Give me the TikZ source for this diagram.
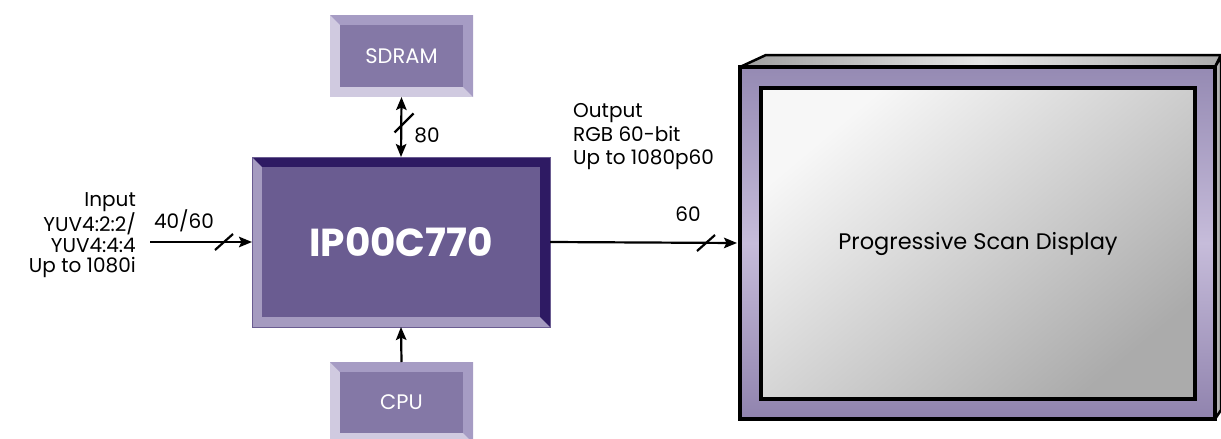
\documentclass[tikz,border=0pt]{standalone}
\usepackage{fontspec}
\setmainfont{Poppins}
\usetikzlibrary{arrows.meta,calc}
\definecolor{chipdark}{HTML}{2E1A63}
\definecolor{chiplight}{HTML}{A59BC0}
\definecolor{chipface}{HTML}{6A5C91}
\definecolor{memlight}{HTML}{D0CAE0}
\definecolor{memdark}{HTML}{A69CC4}
\definecolor{memface}{HTML}{8478A6}
\definecolor{frametop}{HTML}{958AB3}
\definecolor{framemid}{HTML}{C6BCDA}
\definecolor{framebot}{HTML}{9083AE}
\newcommand{\bevelbox}[9]{%
  % #1 name, #2 center, #3 width, #4 height, #5 bevel, #6 light, #7 dark, #8 face, #9 text
  \node[minimum width=#3, minimum height=#4, fill=#6, inner sep=0pt, outer sep=0pt] (#1) at #2 {};
  \fill[#7] (#1.north west) -- (#1.north east) -- (#1.south east)
     -- ([shift={(-#5pt,#5pt)}]#1.south east) -- ([shift={(-#5pt,-#5pt)}]#1.north east)
     -- ([shift={(#5pt,-#5pt)}]#1.north west) -- cycle;
  \node[minimum width=#3-2*#5, minimum height=#4-2*#5, fill=#8, inner sep=0pt, outer sep=0pt, text=white] (#1-face) at (#1) {#9};
}
\begin{document}
\begin{tikzpicture}[x=1pt,y=-1pt,
  conn/.style={line width=2.2pt, -{Stealth[length=13pt,width=10.5pt,inset=2.5pt]}},
  dconn/.style={line width=2.2pt, {Stealth[length=13pt,width=10.5pt,inset=2.5pt]}-{Stealth[length=13pt,width=10.5pt,inset=2.5pt]}},
  slashmark/.style={line width=2.2pt},
  lbl/.style={font=\fontsize{20}{21}\selectfont, inner sep=0pt}
]
\useasboundingbox (0,0) rectangle (1221,439);

% blocks
\bevelbox{chip}{(401,242)}{298}{170}{10}{chiplight}{chipdark}{chipface}{\fontsize{39}{40}\selectfont\bfseries IP00C770}
\draw[chipface, line width=0.8pt] (chip.north west) rectangle (chip.south east);
\bevelbox{sdram}{(401.5,56)}{143}{82}{10}{memlight}{memdark}{memface}{\fontsize{21}{22}\selectfont SDRAM}
\bevelbox{cpu}{(401.5,402.5)}{143}{81}{10}{memlight}{memdark}{memface}{\fontsize{21}{22}\selectfont CPU}

% display
\node[minimum width=475, minimum height=352, inner sep=0pt, outer sep=0pt,
      top color=frametop, bottom color=framebot, middle color=framemid] (monitor) at (977.5,243) {};
\filldraw[line width=2.5pt, line join=round, left color=gray!75, right color=gray!65, middle color=gray!20, draw=black]
  (monitor.north west) -- ([shift={(26pt,12pt)}]monitor.north west) -- ([shift={(6pt,12pt)}]monitor.north east) -- (monitor.north east) -- cycle;
\filldraw[line width=2.5pt, line join=round, fill=gray!60, draw=black]
  (monitor.north east) -- ([shift={(6pt,10pt)}]monitor.north east) -- ([shift={(6pt,9pt)}]monitor.south east) -- (monitor.south east) -- cycle;
\draw[line width=4pt] (monitor.north west) rectangle (monitor.south east);
\node[minimum width=434, minimum height=311, inner sep=0pt, draw=black, line width=4.5pt,
      shading=axis, top color=gray!6, bottom color=gray!66, shading angle=40,
      font=\fontsize{22.5}{26}\selectfont] (screen) at (978,243.5) {Progressive Scan Display};

% connectors
\coordinate (inp) at (150,242);
\draw[conn] (inp) -- (chip.west);
\draw[slashmark] (224,242) +(-9pt,-8pt) -- +(9pt,8pt);
\node[lbl] (inlab) at (184,221) {40/60};
\node[lbl, anchor=east, align=right, font=\fontsize{20}{20.5}\selectfont] (intext) at (136,235.5) {Input\\YUV4:2:2/\\YUV4:4:4\\Up to 1080i};

\draw[conn] (chip.east) -- ([xshift=-3pt]monitor.west);
\draw[slashmark] (706,243) +(-9pt,-8pt) -- +(9pt,8pt);
\node[lbl] (outlab) at (688,214) {60};
\node[lbl, anchor=west, align=left, font=\fontsize{20}{23.5}\selectfont] (outtext) at (573,137) {Output\\RGB 60-bit\\Up to 1080p60};

\draw[dconn] (sdram.south) -- (chip.north);
\draw[slashmark] (404,123) +(-9.5pt,-9.5pt) -- +(9.5pt,9.5pt);
\node[lbl] (memlab) at (427,135) {80};

\draw[conn] (cpu.north) -- (chip.south);
\end{tikzpicture}
\end{document}
